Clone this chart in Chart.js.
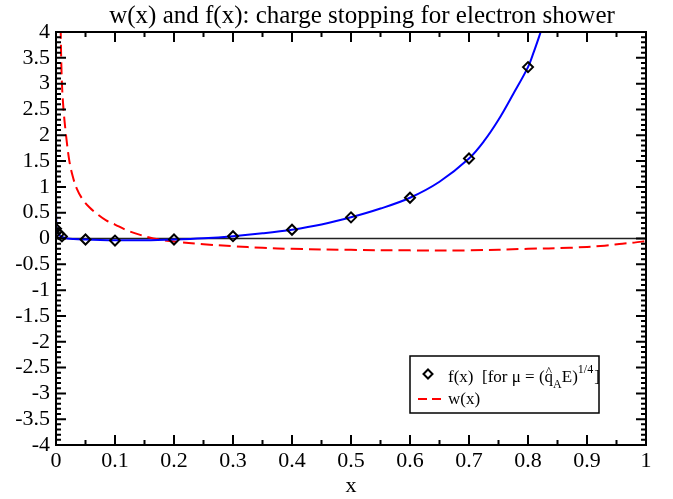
<!DOCTYPE html>
<html>
<head>
<meta charset="utf-8">
<script src="https://cdn.jsdelivr.net/npm/chart.js@4.4.1/dist/chart.umd.min.js"></script>
<style>
html,body{margin:0;padding:0;background:#fff;}
#wrap{width:673px;height:499px;}
</style>
</head>
<body>
<div id="wrap"><canvas id="c" width="673" height="499"></canvas></div>
<script>
// ---- data ----
const titleText = "w(x) and f(x): charge stopping for electron shower";
const xAxisTitle = "x";
const xTickValues = [0, 0.1, 0.2, 0.3, 0.4, 0.5, 0.6, 0.7, 0.8, 0.9, 1];
const yTickValues = [4, 3.5, 3, 2.5, 2, 1.5, 1, 0.5, 0, -0.5, -1, -1.5, -2, -2.5, -3, -3.5, -4];

// f(x) sample points (diamonds)
const fX = [0, 0.005, 0.01, 0.05, 0.1, 0.2, 0.3, 0.4, 0.5, 0.6, 0.7, 0.8];
const fY = [0.19, 0.09, 0.04, -0.02, -0.04, -0.02, 0.045, 0.17, 0.41, 0.79, 1.55, 3.32];

// smooth f(x) curve (blue)
const curveX = [0, 0.001, 0.003, 0.006, 0.01, 0.02, 0.03, 0.05, 0.075, 0.1, 0.15, 0.2, 0.25, 0.3, 0.35, 0.4, 0.45, 0.5, 0.55, 0.6, 0.65, 0.7, 0.725, 0.75, 0.775, 0.8, 0.81, 0.82, 0.83];
const curveY = [0.55, 0.2, 0.12, 0.06, 0.03, 0.0, -0.01, -0.02, -0.03, -0.035, -0.035, -0.02, 0.005, 0.045, 0.1, 0.17, 0.27, 0.41, 0.58, 0.79, 1.1, 1.55, 1.88, 2.3, 2.8, 3.32, 3.62, 3.95, 4.3];

// w(x) (red dashed)
const wX = [0.006, 0.008, 0.0097, 0.0124, 0.017, 0.0225, 0.028, 0.035, 0.045, 0.057, 0.069, 0.085, 0.1, 0.12, 0.14, 0.165, 0.2, 0.25, 0.3, 0.35, 0.4, 0.5, 0.6, 0.7, 0.8, 0.87, 0.93, 0.96, 0.98, 1.0];
const wY = [5.5, 4.0, 3.1, 2.55, 2.0, 1.51, 1.22, 0.97, 0.76, 0.6, 0.48, 0.35, 0.27, 0.16, 0.08, 0.0, -0.06, -0.11, -0.15, -0.18, -0.2, -0.22, -0.23, -0.23, -0.2, -0.18, -0.14, -0.1, -0.08, -0.05];

const legendF = "f(x)";
const legendW = "w(x)";

const toPts = (xs, ys) => xs.map((x, i) => ({x: x, y: ys[i]}));
const SERIF = "'Liberation Serif','DejaVu Serif',serif";

const framePlugin = {
  id: 'frame',
  beforeDatasetsDraw(chart) {
    const {ctx, chartArea: a, scales} = chart;
    const y0 = scales.y.getPixelForValue(0);
    ctx.save();
    ctx.strokeStyle = '#222';
    ctx.lineWidth = 1.5;
    ctx.beginPath();
    ctx.moveTo(a.left, y0);
    ctx.lineTo(a.right, y0);
    ctx.stroke();
    ctx.restore();
  },
  afterDraw(chart) {
    const {ctx, chartArea: a, scales} = chart;
    ctx.save();
    ctx.strokeStyle = '#000';
    ctx.lineWidth = 2;
    ctx.strokeRect(a.left, a.top, a.right - a.left, a.bottom - a.top);
    ctx.beginPath();
    for (let i = 0; i <= 20; i++) {
      const px = scales.x.getPixelForValue(i * 0.05);
      const len = (i % 2 === 0) ? 10 : 5;
      ctx.moveTo(px, a.bottom); ctx.lineTo(px, a.bottom - len);
      ctx.moveTo(px, a.top); ctx.lineTo(px, a.top + len);
    }
    for (let i = -40; i <= 40; i++) {
      const py = scales.y.getPixelForValue(i / 10);
      const len = (i % 5 === 0) ? 10 : 5;
      ctx.moveTo(a.left, py); ctx.lineTo(a.left + len, py);
      ctx.moveTo(a.right, py); ctx.lineTo(a.right - len, py);
    }
    ctx.stroke();

    // title
    ctx.fillStyle = '#000';
    ctx.font = "25px " + SERIF;
    ctx.textAlign = 'center';
    ctx.textBaseline = 'alphabetic';
    ctx.fillText(titleText, 362, 23);

    // legend box
    const bx = 410, by = 356, bw = 189, bh = 57;
    ctx.fillStyle = '#fff';
    ctx.fillRect(bx, by, bw, bh);
    ctx.lineWidth = 1.5;
    ctx.strokeStyle = '#000';
    ctx.strokeRect(bx, by, bw, bh);

    const mx = 428, my = 374, r = 4.5;
    ctx.lineWidth = 2;
    ctx.beginPath();
    ctx.moveTo(mx, my - r); ctx.lineTo(mx + r, my); ctx.lineTo(mx, my + r); ctx.lineTo(mx - r, my); ctx.closePath();
    ctx.stroke();

    ctx.fillStyle = '#000';
    ctx.textAlign = 'left';
    ctx.font = "17px " + SERIF;
    let tx = 448;
    const base1 = 382;
    const seg1 = legendF + "  [for \u03bc = (";
    ctx.fillText(seg1, tx, base1);
    tx += ctx.measureText(seg1).width;
    const qx = tx;
    ctx.fillText("q", tx, base1);
    const qw = ctx.measureText("q").width;
    ctx.font = "13px " + SERIF;
    ctx.textAlign = 'center';
    ctx.fillText("^", qx + qw / 2, base1 - 7);
    ctx.textAlign = 'left';
    tx += qw;
    ctx.font = "12px " + SERIF;
    ctx.fillText("A", tx, base1 + 6);
    tx += ctx.measureText("A").width;
    ctx.font = "17px " + SERIF;
    ctx.fillText("E)", tx, base1);
    tx += ctx.measureText("E)").width;
    ctx.font = "12px " + SERIF;
    ctx.fillText("1/4", tx, base1 - 9);
    tx += ctx.measureText("1/4").width + 1;
    ctx.font = "17px " + SERIF;
    ctx.fillText("]", tx, base1);

    ctx.strokeStyle = '#ff0000';
    ctx.lineWidth = 2;
    ctx.setLineDash([9, 5]);
    ctx.beginPath();
    ctx.moveTo(418, 399); ctx.lineTo(441, 399);
    ctx.stroke();
    ctx.setLineDash([]);
    ctx.fillText(legendW, 448, 404);
    ctx.restore();
  }
};

new Chart(document.getElementById('c'), {
  type: 'scatter',
  data: {
    datasets: [
      {
        label: 'f(x) curve',
        data: toPts(curveX, curveY),
        showLine: true,
        borderColor: '#0000ff',
        borderWidth: 2,
        pointRadius: 0,
        tension: 0.35,
        order: 2
      },
      {
        label: 'w(x)',
        data: toPts(wX, wY),
        showLine: true,
        borderColor: '#ff0000',
        borderWidth: 2,
        borderDash: [12, 6],
        pointRadius: 0,
        tension: 0.35,
        order: 3
      },
      {
        label: 'f(x)',
        data: toPts(fX, fY),
        showLine: false,
        pointStyle: 'rectRot',
        pointRadius: 5,
        pointBorderWidth: 2,
        pointBorderColor: '#000',
        pointBackgroundColor: 'rgba(255,255,255,0)',
        order: 1
      }
    ]
  },
  options: {
    responsive: false,
    animation: false,
    devicePixelRatio: 1,
    layout: {padding: {top: 32, right: 27, left: 0, bottom: 0}},
    plugins: {legend: {display: false}, title: {display: false}, tooltip: {enabled: false}},
    scales: {
      x: {
        type: 'linear', min: 0, max: 1,
        afterFit(s) { s.height = 54; },
        afterBuildTicks(s) { s.ticks = xTickValues.map(v => ({value: v})); },
        grid: {display: false, drawTicks: false},
        border: {display: false},
        ticks: {
          autoSkip: false, maxRotation: 0, padding: 3,
          color: '#000', font: {family: SERIF, size: 22},
          callback: v => String(Number(v.toFixed(2)))
        },
        title: {display: true, text: xAxisTitle, color: '#000', font: {family: SERIF, size: 22}, padding: {top: 0, bottom: 0}}
      },
      y: {
        type: 'linear', min: -4, max: 4,
        afterFit(s) { s.width = 56; },
        afterBuildTicks(s) { s.ticks = yTickValues.map(v => ({value: v})); },
        grid: {display: false, drawTicks: false},
        border: {display: false},
        ticks: {
          autoSkip: false, padding: 6,
          color: '#000', font: {family: SERIF, size: 22},
          callback: v => String(Number(v.toFixed(2)))
        }
      }
    }
  },
  plugins: [framePlugin]
});
</script>
</body>
</html>
